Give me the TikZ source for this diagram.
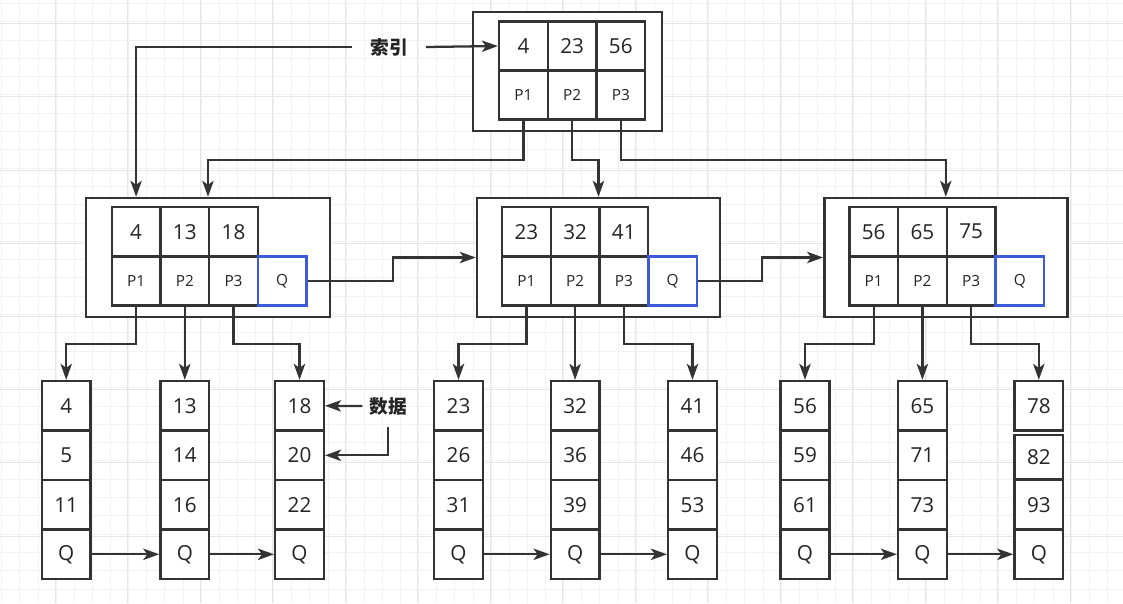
\documentclass[tikz,border=0pt]{standalone}
\usepackage{fontspec}
\usepackage{xcolor}
\usepackage{tikz}
\usetikzlibrary{arrows.meta}
\setmainfont{Open Sans}
\newfontfamily\cjk{Noto Sans CJK SC}

\definecolor{linegray}{RGB}{51,51,51}
\definecolor{textgray}{RGB}{36,36,36}
\definecolor{qblue}{RGB}{59,91,219}
\definecolor{gridminor}{RGB}{242,242,242}
\definecolor{gridmajor}{RGB}{230,230,230}

\begin{document}
\begin{tikzpicture}[x=0.75pt,y=0.75pt,yscale=-1,xscale=1,
  cell/.style={draw=linegray,fill=white,line width=1.8pt,minimum width=36.5pt,minimum height=36.8pt,inner sep=0pt,text=textgray,font=\fontsize{15.5}{18}\selectfont},
  pcell/.style={cell,font=\fontsize{11.5}{14}\selectfont},
  qcell/.style={pcell,draw=qblue,line width=2pt},
  leaf/.style={cell,minimum height=37.1pt},
  outer/.style={draw=linegray,fill=white,line width=1.8pt,inner sep=0pt},
  arr/.style={draw=linegray,line width=1.7pt,-{Stealth[length=12pt,width=8.5pt,inset=3pt]}},
  lbl/.style={text=textgray,font=\cjk\bfseries\fontsize{14}{16}\selectfont},
  gridline/.style={draw=gridminor,line width=0.6pt},
  gridbold/.style={draw=gridmajor,line width=0.6pt}]
\useasboundingbox (0,0) rectangle (1123,603);

%Grid
\foreach \i in {0,...,61} \draw[gridline] ({1.7+18.125*\i},0) -- ({1.7+18.125*\i},603);
\foreach \i in {0,...,32} \draw[gridline] (0,{3.3+18.3*\i}) -- (1123,{3.3+18.3*\i});
\foreach \i in {0,...,14} \draw[gridbold] ({55+72.5*\i},0) -- ({55+72.5*\i},603);
\foreach \i in {0,...,7} \draw[gridbold] (0,{23.5+73.2*\i}) -- (1123,{23.5+73.2*\i});

%Shape: root node
\node[outer,minimum width=141.75pt,minimum height=89.25pt] (T) at (567.5,71.5) {};
\node[cell] (t1) at (523.4,46) {4};
\node[cell] (t2) at (572.1,46) {23};
\node[cell] (t3) at (620.8,46) {56};
\node[pcell] (tp1) at (523.4,95) {P1};
\node[pcell] (tp2) at (572.1,95) {P2};
\node[pcell] (tp3) at (620.8,95) {P3};

%Shape: node A
\node[outer,minimum width=183pt,minimum height=89.25pt] (A) at (208,257.5) {};
\node[cell] (a1) at (136.1,231.7) {4};
\node[cell] (a2) at (184.8,231.7) {13};
\node[cell] (a3) at (233.5,231.7) {18};
\node[pcell] (ap1) at (136.1,281) {P1};
\node[pcell] (ap2) at (184.8,281) {P2};
\node[pcell] (ap3) at (233.5,281) {P3};
\node[qcell] (aq) at (282.2,281) {Q};

%Shape: node B
\node[outer,minimum width=182.25pt,minimum height=89.25pt] (B) at (598.5,257.5) {};
\node[cell] (b1) at (526.4,231.7) {23};
\node[cell] (b2) at (575.1,231.7) {32};
\node[cell] (b3) at (623.8,231.7) {41};
\node[pcell] (bp1) at (526.4,281) {P1};
\node[pcell] (bp2) at (575.1,281) {P2};
\node[pcell] (bp3) at (623.8,281) {P3};
\node[qcell] (bq) at (672.5,281) {Q};

%Shape: node C
\node[outer,minimum width=182.25pt,minimum height=89.25pt] (C) at (945.8,257.5) {};
\node[cell] (c1) at (873.7,231.7) {56};
\node[cell] (c2) at (922.4,231.7) {65};
\node[cell] (c3) at (971.1,231.7) {75};
\node[pcell] (cp1) at (873.7,281) {P1};
\node[pcell] (cp2) at (922.4,281) {P2};
\node[pcell] (cp3) at (971.1,281) {P3};
\node[qcell] (cq) at (1019.8,281) {Q};

%Shape: leaves
\node[leaf] (l11) at (66.2,405.8) {4};
\node[leaf] (l12) at (66.2,455.3) {5};
\node[leaf] (l13) at (66.2,504.8) {11};
\node[leaf] (l14) at (66.2,554.3) {Q};
\node[leaf] (l21) at (184.8,405.8) {13};
\node[leaf] (l22) at (184.8,455.3) {14};
\node[leaf] (l23) at (184.8,504.8) {16};
\node[leaf] (l24) at (184.8,554.3) {Q};
\node[leaf] (l31) at (299.5,405.8) {18};
\node[leaf] (l32) at (299.5,455.3) {20};
\node[leaf] (l33) at (299.5,504.8) {22};
\node[leaf] (l34) at (299.5,554.3) {Q};
\node[leaf] (l41) at (458.5,405.8) {23};
\node[leaf] (l42) at (458.5,455.3) {26};
\node[leaf] (l43) at (458.5,504.8) {31};
\node[leaf] (l44) at (458.5,554.3) {Q};
\node[leaf] (l51) at (575.1,405.8) {32};
\node[leaf] (l52) at (575.1,455.3) {36};
\node[leaf] (l53) at (575.1,504.8) {39};
\node[leaf] (l54) at (575.1,554.3) {Q};
\node[leaf] (l61) at (692.5,405.8) {41};
\node[leaf] (l62) at (692.5,455.3) {46};
\node[leaf] (l63) at (692.5,504.8) {53};
\node[leaf] (l64) at (692.5,554.3) {Q};
\node[leaf] (l71) at (805,405.8) {56};
\node[leaf] (l72) at (805,455.3) {59};
\node[leaf] (l73) at (805,504.8) {61};
\node[leaf] (l74) at (805,554.3) {Q};
\node[leaf] (l81) at (922.4,405.8) {65};
\node[leaf] (l82) at (922.4,455.3) {71};
\node[leaf] (l83) at (922.4,504.8) {73};
\node[leaf] (l84) at (922.4,554.3) {Q};
\node[leaf] (l91) at (1038.8,405.8) {78};
\node[leaf,minimum height=33.45pt] (l92) at (1038.8,457) {82};
\node[leaf] (l93) at (1038.8,504.8) {93};
\node[leaf] (l94) at (1038.8,554.3) {Q};

% Text Node
\node[lbl,inner xsep=13.5pt] (idx) at (389,47) {索引};
% Text Node
\node[lbl,inner xsep=5pt,inner ysep=8.8pt] (dat) at (388,406) {数据};

%Straight Lines: index
\draw[arr] (idx.east) -- (t1.west);
\draw[arr] (idx.west) -| (a1.north |- A.north);
%Straight Lines: root to level 2
\draw[arr] (tp1.south) -- ++(0,39) -| (A.north);
\draw[arr] (tp2.south) -- ++(0,39) -| (B.north);
\draw[arr] (tp3.south) -- ++(0,39) -| (C.north);
%Straight Lines: level 2 chain
\draw[arr] (aq.east) -- ++(85,0) |- (B.west);
\draw[arr] (bq.east) -- ++(64,0) |- (C.west);
%Straight Lines: level 2 to leaves
\draw[arr] (ap1.south) -- ++(0,37.5) -| (l11.north);
\draw[arr] (ap2.south) -- (l21.north);
\draw[arr] (ap3.south) -- ++(0,37.5) -| (l31.north);
\draw[arr] (bp1.south) -- ++(0,37.5) -| (l41.north);
\draw[arr] (bp2.south) -- (l51.north);
\draw[arr] (bp3.south) -- ++(0,37.5) -| (l61.north);
\draw[arr] (cp1.south) -- ++(0,37.5) -| (l71.north);
\draw[arr] (cp2.south) -- (l81.north);
\draw[arr] (cp3.south) -- ++(0,37.5) -| (l91.north);
%Straight Lines: leaf chain
\draw[arr] (l14.east) -- (l24.west);
\draw[arr] (l24.east) -- (l34.west);
\draw[arr] (l44.east) -- (l54.west);
\draw[arr] (l54.east) -- (l64.west);
\draw[arr] (l74.east) -- (l84.west);
\draw[arr] (l84.east) -- (l94.west);
%Straight Lines: data
\draw[arr] (dat.west) -- (l31.east);
\draw[arr] (dat.south) |- (l32.east);
\end{tikzpicture}
\end{document}
